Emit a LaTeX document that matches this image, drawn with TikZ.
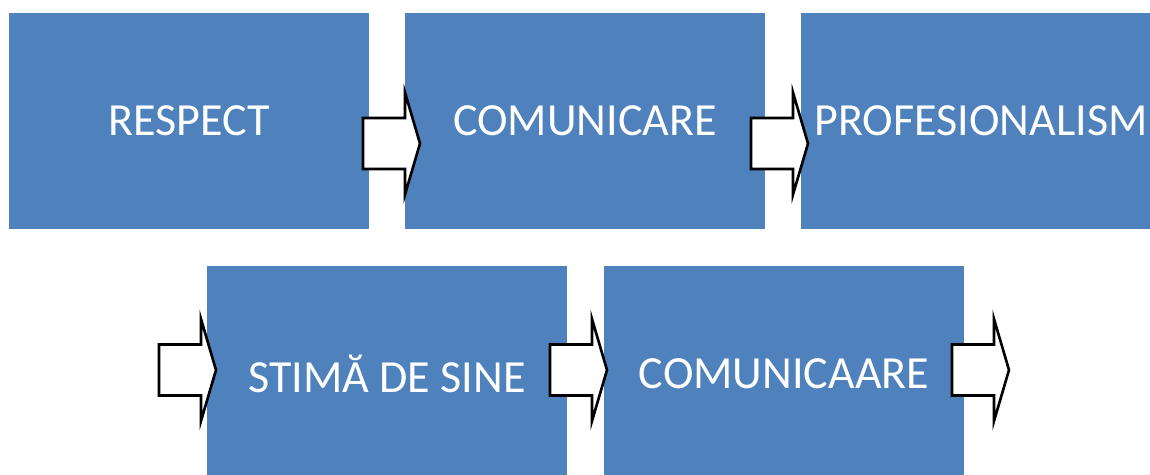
\documentclass[tikz,border=0pt]{standalone}
\usepackage{fontspec}
\setmainfont{Carlito}
\usepackage{xcolor}
\definecolor{boxblue}{HTML}{4F81BD}
\tikzset{
  value box/.style={
    fill=boxblue, draw=none, inner sep=0pt,
    minimum width=7.2cm, minimum height=4.32cm,
    text=white, font=\fontsize{26.2}{31}\selectfont
  },
  block arrow/.pic={
    \draw [fill=white, line width=1.5pt, line join=miter, pic actions]
    (-42,-25.5) -- (0,-25.5) -- (0,-51) -- (15,0) -- (0,51) -- (0,25.5) -- (-42,25.5) -- cycle;
  },
}

\begin{document}
\begin{tikzpicture}[x=0.02cm, y=-0.02cm]
                \useasboundingbox (0,0) rectangle (1150,474);
                \clip (0,0) rectangle (1150,474);
                % first row
                \node[value box] (respect) at (189,121) {RESPECT};
                \node[value box] (comm1) at (585,121) {COMUNICARE};
                \node[value box] (prof) at (981,121) {PROFESIONALISM};
                % second row
                \node[value box] (stima) at (387,374) {STIMĂ DE SINE};
                \node[value box] (comm2) at (784,374) {COMUNICAARE};
                % arrows
                \pic at (405,143.5) {block arrow};
                \pic at (793,143.5) {block arrow};
                \pic at (201,370) {block arrow};
                \pic at (592,370) {block arrow};
                \pic at (994,370) {block arrow};
            \end{tikzpicture}
\end{document}
